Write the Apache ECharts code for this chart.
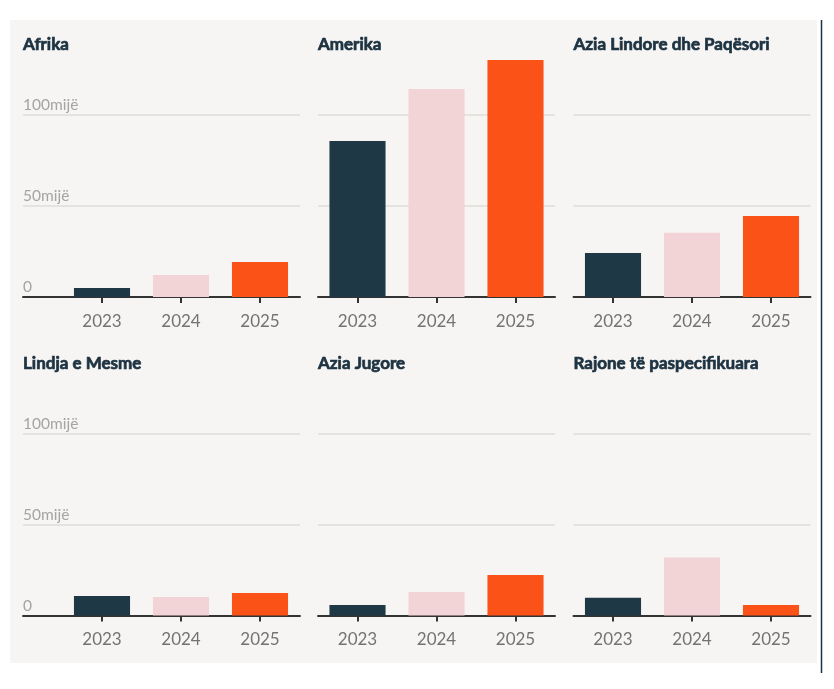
<!DOCTYPE html>
<html>
<head>
<meta charset="utf-8">
<script src="https://cdn.jsdelivr.net/npm/echarts@6/dist/echarts.min.js"></script>
<style>
html,body{margin:0;padding:0;background:#ffffff;}
#chart{width:834px;height:689px;}
</style>
</head>
<body>
<div id="chart"></div>
<script>
// ---- data ----
const categories = ['2023', '2024', '2025'];
const regionNames = ['Afrika', 'Amerika', 'Azia Lindore dhe Paqësori', 'Lindja e Mesme', 'Azia Jugore', 'Rajone të paspecifikuara'];
const afrika = [4900, 12100, 19200];
const amerika = [85700, 114300, 130200];
const aziaLindore = [24200, 35300, 44500];
const lindjaMesme = [10700, 10200, 12400];
const aziaJugore = [5800, 12900, 22300];
const rajonePaspecifikuara = [9800, 31800, 5800];
const yTickValues = [0, 50000, 100000];
const yTickLabels = ['0', '50mijë', '100mijë'];

const regionValues = [afrika, amerika, aziaLindore, lindjaMesme, aziaJugore, rajonePaspecifikuara];

// ---- style / layout ----
const FONT = 'Lato';
const barColors = ['#1f3846', '#f2d3d6', '#fb5218'];
const colLeftA = [23, 318, 573.5];
const colWidthA = [277, 237, 237];
const colLeftB = [62.5, 318, 573.5];
const colWidthB = 237;
const rowBase = [297, 615.5];
const plotH = 273;
const yMax = 150000;

const grids = [], xAxes = [], yAxes = [], series = [], titles = [];

regionNames.forEach((name, i) => {
  const col = i % 3, row = Math.floor(i / 3);
  const top = rowBase[row] - plotH;
  // grid A: full width for gridlines / y labels / baseline
  grids.push({left: colLeftA[col], top: top, width: colWidthA[col], height: plotH});
  const gA = grids.length - 1;
  xAxes.push({
    type: 'value', gridIndex: gA, min: 0, max: 1,
    axisLine: {show: true, onZero: false, lineStyle: {color: '#333333', width: 2}},
    axisTick: {show: false}, axisLabel: {show: false}, splitLine: {show: false}
  });
  yAxes.push({
    type: 'value', gridIndex: gA, min: 0, max: yMax, interval: 50000,
    axisLine: {show: false}, axisTick: {show: false},
    axisLabel: {
      show: col === 0, inside: true, align: 'left', verticalAlign: 'bottom', margin: 0,
      color: '#a4a4a4', fontFamily: FONT, fontSize: 15.5, showMaxLabel: false,
      padding: [0, 0, 2, 0],
      formatter: v => { const k = yTickValues.indexOf(v); return k >= 0 ? yTickLabels[k] : ''; }
    },
    splitLine: {show: true, showMinLine: false, showMaxLine: false, lineStyle: {color: '#dfdcd9', width: 1.5}}
  });
  // grid B: bars
  grids.push({left: colLeftB[col], top: top, width: colWidthB, height: plotH});
  const gB = grids.length - 1;
  xAxes.push({
    type: 'category', gridIndex: gB, data: categories,
    axisLine: {show: false},
    axisTick: {show: true, alignWithLabel: true, length: 6, lineStyle: {color: '#333333', width: 2}},
    axisLabel: {color: '#737373', fontFamily: FONT, fontSize: 17, margin: 16}
  });
  yAxes.push({type: 'value', gridIndex: gB, min: 0, max: yMax, show: false, splitLine: {show: false}});
  series.push({
    type: 'bar', name: name, xAxisIndex: xAxes.length - 1, yAxisIndex: yAxes.length - 1,
    barCategoryGap: '29%',
    data: regionValues[i].map((v, k) => ({value: v, itemStyle: {color: barColors[k]}})),
    z: 1
  });
  titles.push({
    text: name, left: colLeftA[col], top: rowBase[row] - 260.5, padding: 0,
    textStyle: {fontFamily: FONT, fontWeight: 'bold', fontSize: 17, color: '#1d3342',
      textBorderColor: '#1d3342', textBorderWidth: 0.7}
  });
});

const chart = echarts.init(document.getElementById('chart'), null, {renderer: 'canvas'});
chart.setOption({
  animation: false,
  backgroundColor: '#ffffff',
  graphic: [
    {type: 'rect', z: -10, silent: true, shape: {x: 10, y: 20, width: 807, height: 643}, style: {fill: '#f7f5f3'}},
    {type: 'line', z: -10, silent: true, shape: {x1: 821.5, y1: 20, x2: 821.5, y2: 673}, style: {stroke: '#1d3342', lineWidth: 1.5}}
  ],
  title: titles,
  grid: grids,
  xAxis: xAxes,
  yAxis: yAxes,
  series: series
});
</script>
</body>
</html>
